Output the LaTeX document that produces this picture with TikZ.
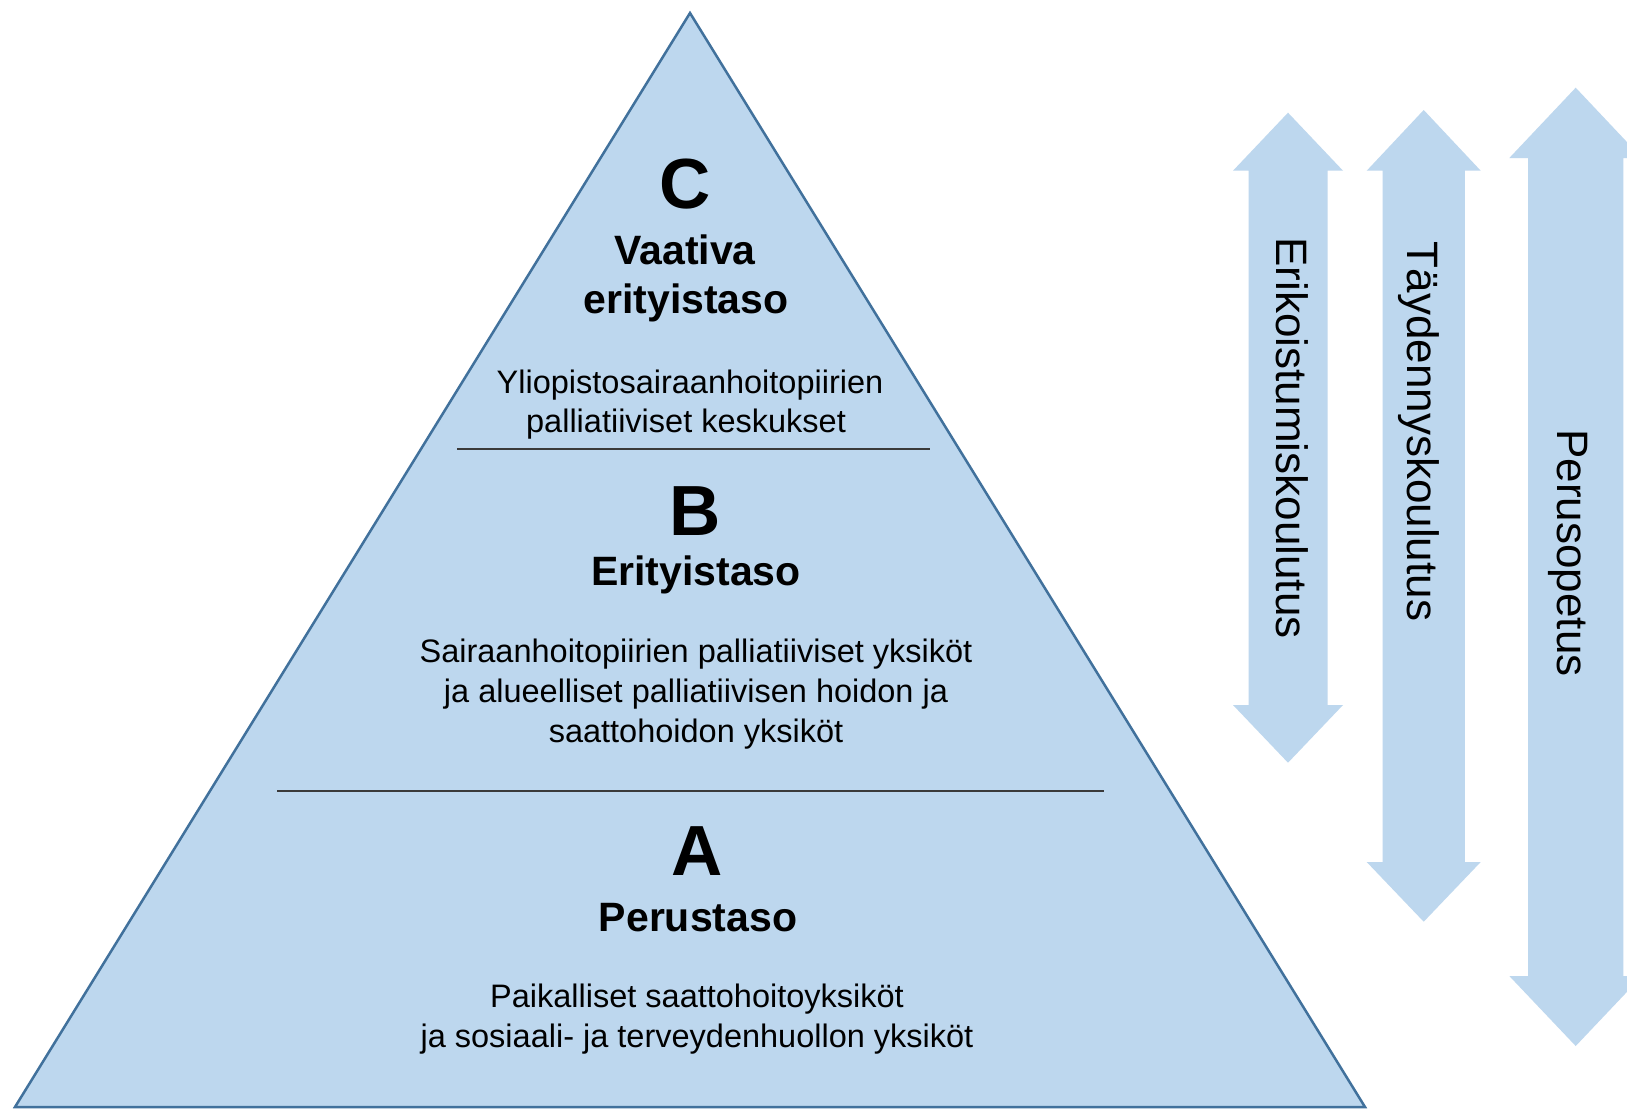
\documentclass[tikz,border=0pt]{standalone}
\usepackage{fontspec}
\setmainfont{Liberation Sans}
\definecolor{tri}{HTML}{BDD7EE}
\definecolor{triedge}{HTML}{41719C}
\definecolor{divline}{HTML}{3A3A3A}
\begin{document}
\begin{tikzpicture}[x=1pt,y=-1pt,
  body/.style={inner sep=0, anchor=base, font=\fontsize{32.5}{40}\selectfont, text=black},
  title/.style={inner sep=0, anchor=base, font=\fontsize{41}{49}\selectfont\bfseries, text=black},
  letter/.style={inner sep=0, anchor=base, font=\fontsize{71}{80}\selectfont\bfseries, text=black},
  vlabel/.style={inner sep=0, anchor=base, rotate=-90, font=\fontsize{44}{50}\selectfont, text=black},
  arrowfill/.style={fill=tri},
  divider/.style={draw=divline, line width=1.5pt}]
\useasboundingbox (0,0) rectangle (1627,1109);
\fill[white] (0,0) rectangle (1627,1109);
% pyramid
\draw[fill=tri, draw=triedge, line width=2.5pt, line join=miter]
  (15,1107) -- (690,13) -- (1365,1107) -- cycle;
\draw[divider] (457,449) -- (930,449);
\draw[divider] (277,791) -- (1104,791);
% level C
\node[letter] (cL) at (685,208) {C};
\node[title] (cT1) at (685,264) {Vaativa};
\node[title] (cT2) at (686,313) {erityistaso};
\node[body] (cB1) at (690,393) {Yliopistosairaanhoitopiirien};
\node[body] (cB2) at (686,432) {palliatiiviset keskukset};
% level B
\node[letter] (bL) at (695,535) {B};
\node[title] (bT) at (696,585) {Erityistaso};
\node[body] (bB1) at (696,662) {Sairaanhoitopiirien palliatiiviset yksiköt};
\node[body] (bB2) at (696,702) {ja alueelliset palliatiivisen hoidon ja};
\node[body] (bB3) at (696,742) {saattohoidon yksiköt};
% level A
\node[letter] (aL) at (697,875) {A};
\node[title] (aT) at (698,931) {Perustaso};
\node[body] (aB1) at (697,1007) {Paikalliset saattohoitoyksiköt};
\node[body] (aB2) at (697,1047) {ja sosiaali- ja terveydenhuollon yksiköt};
% double arrows
\fill[arrowfill] (1288,112.7) -- (1343,170.7) -- (1327.7,170.7) -- (1327.7,705)
  -- (1343,705) -- (1288,762.7) -- (1233,705) -- (1248.7,705) -- (1248.7,170.7)
  -- (1233,170.7) -- cycle;
\fill[arrowfill] (1423.7,110) -- (1480.7,170.7) -- (1464.9,170.7) -- (1464.9,862)
  -- (1480.7,862) -- (1423.7,921.7) -- (1366.7,862) -- (1382.5,862) -- (1382.5,170.7)
  -- (1366.7,170.7) -- cycle;
\fill[arrowfill] (1575.7,87.7) -- (1642,158) -- (1623.4,158) -- (1623.4,976)
  -- (1642,976) -- (1575.7,1046) -- (1509.3,976) -- (1528,976) -- (1528,158)
  -- (1509.3,158) -- cycle;
\node[vlabel] (e1) at (1276,438) {Erikoistumiskoulutus};
\node[vlabel] (e2) at (1407,431.5) {Täydennyskoulutus};
\node[vlabel] (e3) at (1557,553) {Perusopetus};
\end{tikzpicture}
\end{document}
